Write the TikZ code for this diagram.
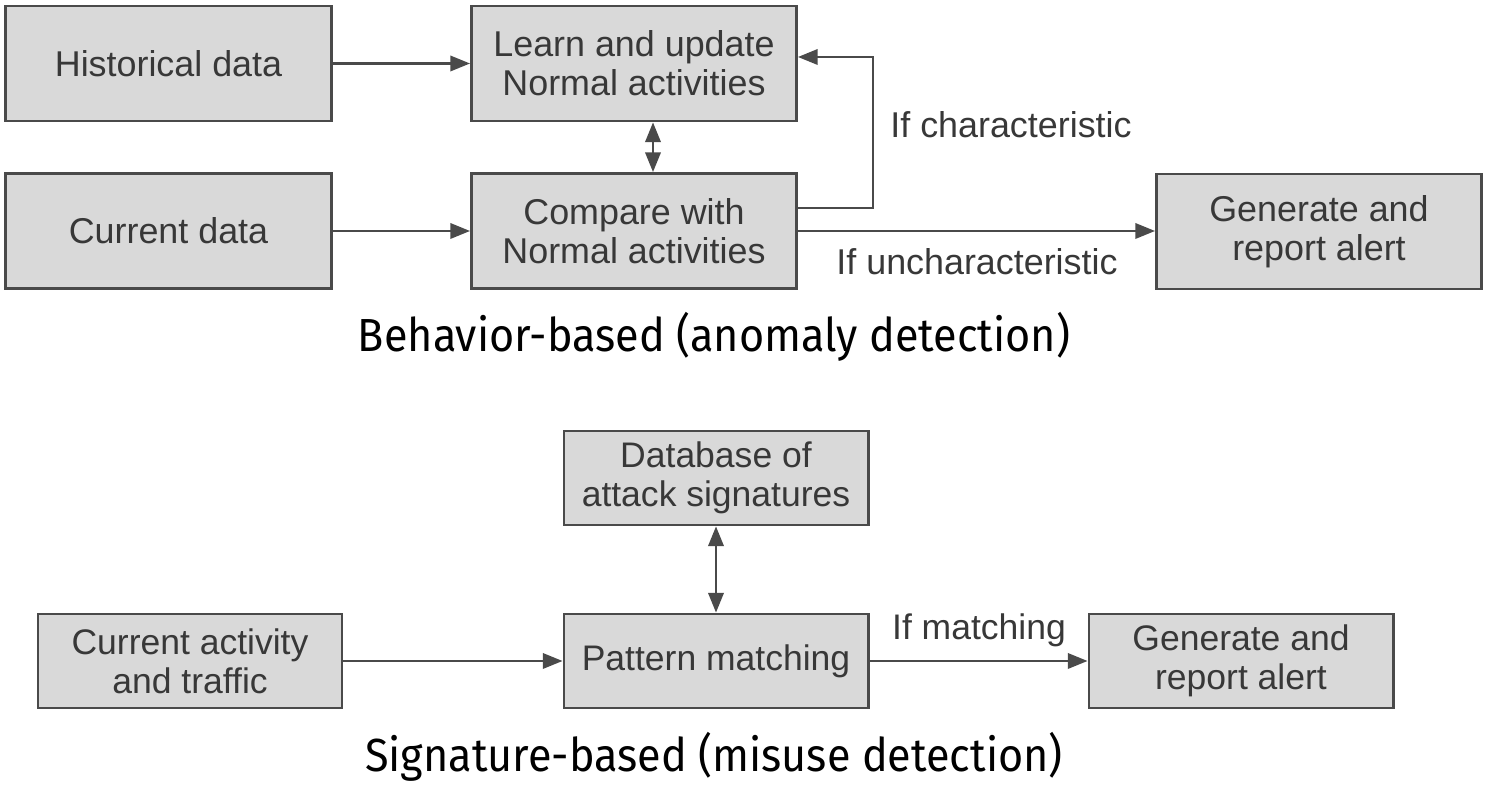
\documentclass[tikz,border=0pt]{standalone}
\usepackage{fontspec}
\setmainfont{Liberation Sans}
\newfontfamily\titlefont[FakeStretch=0.93]{Fira Sans}
\usetikzlibrary{arrows.meta}
\definecolor{boxfill}{HTML}{D9D9D9}
\definecolor{boxline}{HTML}{4A4A4A}
\definecolor{txt}{HTML}{383838}
\tikzset{
  boxA/.style={draw=boxline, line width=0.8pt, fill=boxfill, minimum width=3.25cm, minimum height=1.15cm, inner sep=0pt, align=center, text=txt, font=\fontsize{10.2}{10}\selectfont},
  boxB/.style={draw=boxline, line width=0.8pt, fill=boxfill, minimum width=3.04cm, minimum height=0.94cm, inner sep=0pt, align=center, text=txt, font=\fontsize{10.1}{10}\selectfont},
  lbl/.style={text=txt, font=\fontsize{10.2}{10}\selectfont, inner sep=0pt},
  lblB/.style={text=txt, font=\fontsize{10.1}{10}\selectfont, inner sep=0pt},
  ttl/.style={font=\titlefont\fontsize{13.2}{14}\selectfont, text=black, inner sep=0pt},
  arr/.style={draw=boxline, line width=0.6pt, -{Triangle[length=5.6pt,width=4.4pt]}},
  darr/.style={draw=boxline, line width=0.6pt, {Triangle[length=5.6pt,width=4.4pt]}-{Triangle[length=5.6pt,width=4.4pt]}},
}
\begin{document}
\begin{tikzpicture}[x=0.01cm, y=-0.01cm]
\useasboundingbox (0,0) rectangle (1490,792);
% top
\node[boxA] (hist) at (168.5,63.5) {Historical data};
\node[boxA] (learn) at (634,63.5) {Learn and update\\[1pt]Normal activities};
\node[boxA] (cur) at (168.5,231) {Current data};
\node[boxA] (comp) at (634,231) {Compare with\\[1pt]Normal activities};
\node[boxA] (gen1) at (1319,231.5) {Generate and\\[1pt]report alert};
\draw[arr] (hist) -- (learn);
\draw[arr] (cur) -- (comp);
\draw[darr] (learn.south -| 653,0) -- (comp.north -| 653,0);
\coordinate (fbA) at (873,208);
\coordinate (fbB) at (873,57);
\draw[arr] (comp.east |- fbA) -- (fbA) -- (fbB) -- (learn.east |- fbB);
\draw[arr] (comp) -- (gen1.west |- comp);
\node[lbl] (lchar) at (1011,125) {If characteristic};
\node[lbl] (lunchar) at (977,262) {If uncharacteristic};
\node[ttl] (t1) at (714,337) {Behavior-based (anomaly detection)};
% bottom
\node[boxB] (db) at (716,478) {Database of\\[1pt]attack signatures};
\node[boxB] (pm) at (716,661) {Pattern matching};
\node[boxB] (act) at (190,661) {Current activity\\[1pt]and traffic};
\node[boxB] (gen2) at (1241,661) {Generate and\\[1pt]report alert};
\draw[darr] (db) -- (pm);
\draw[arr] (act) -- (pm);
\draw[arr] (pm) -- (gen2);
\node[lblB] (lmatch) at (979,630) {If matching};
\node[ttl] (t2) at (714,757) {Signature-based (misuse detection)};
\end{tikzpicture}
\end{document}
